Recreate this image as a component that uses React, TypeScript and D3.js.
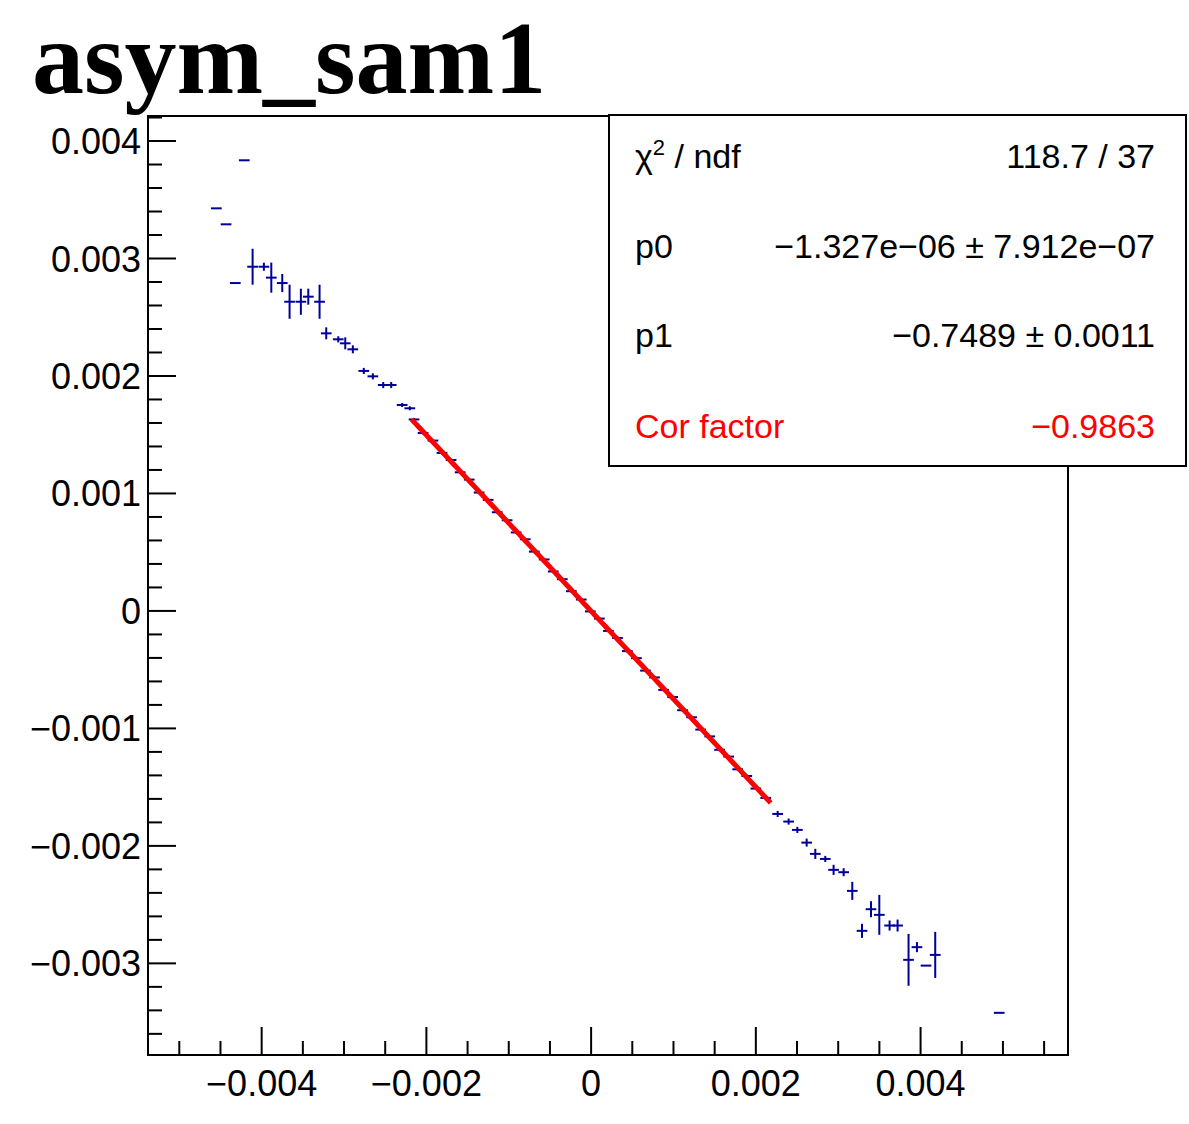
import React from "react";
import * as d3 from "d3";

const TITLE = "asym_sam1";

// data points (x, y, y-error)
const ptX = [
  -0.00455, -0.004432, -0.00432, -0.004211, -0.00411, -0.003973, -0.003883, -0.00375, -0.003661, -0.003524,
  -0.003434, -0.003297, -0.003216, -0.00307, -0.002985, -0.002893, -0.00276, -0.00265, -0.002524, -0.002427,
  -0.002294, -0.002201,
  -0.00215, -0.00204, -0.00192, -0.00181, -0.0017, -0.00159, -0.00148, -0.00136, -0.00125, -0.00114,
  -0.00102, -0.00091, -0.0008, -0.00069, -0.00057, -0.00046, -0.00035, -0.00024, -0.00012, -0.00001,
  0.0001, 0.00021, 0.00032, 0.00044, 0.00055, 0.00066, 0.00077, 0.00088, 0.00099, 0.00111,
  0.00122, 0.00133, 0.00144, 0.00156, 0.00167, 0.00178, 0.00189, 0.002, 0.00212,
  0.002265, 0.002398, 0.002504, 0.002617, 0.002722, 0.002843, 0.002944, 0.003066, 0.003171, 0.003289,
  0.003398, 0.003499, 0.003624, 0.003721, 0.003854, 0.003956, 0.004066, 0.004178, 0.004955,
];
const ptY = [
  0.003427, 0.003291, 0.002791, 0.003836, 0.00293, 0.00293, 0.002837, 0.002791, 0.002632, 0.002632,
  0.002675, 0.002632, 0.002363, 0.002312, 0.002278, 0.002227, 0.002043, 0.001997, 0.001923, 0.001923,
  0.001753, 0.001725,
  0.00163, 0.001515, 0.00145, 0.001345, 0.001285, 0.00118, 0.001118, 0.001008, 0.000945, 0.00084,
  0.000772, 0.000668, 0.00061, 0.000505, 0.000438, 0.000336, 0.00027, 0.000168, 0.000097, -0.000004,
  -0.000065, -0.00017, -0.00023, -0.000342, -0.000402, -0.000508, -0.000566, -0.000672, -0.000733, -0.000845,
  -0.000905, -0.00101, -0.001068, -0.001182, -0.00124, -0.001348, -0.001405, -0.001512, -0.001592,
  -0.001728, -0.001793, -0.001864, -0.001972, -0.002068, -0.002111, -0.002204, -0.002224, -0.002383, -0.002723,
  -0.002539, -0.002587, -0.002678, -0.002678, -0.00297, -0.002862, -0.003019, -0.002928, -0.003421,
];
const ptEY = [
  0, 0, 0, 0, 0.000153, 0.000034, 0.000128, 0.000077, 0.000145, 0.000111,
  0.000068, 0.000145, 0.000051, 0.000026, 0.000051, 0.000034, 0.000026, 0.000026, 0.000026, 0.000026,
  0.000017, 0.000017,
  0.000012, 0.000012, 0.000012, 0.000012, 0.000012, 0.000012, 0.000012, 0.000012, 0.000012, 0.000012,
  0.000012, 0.000012, 0.000012, 0.000012, 0.000012, 0.000012, 0.000012, 0.000012, 0.000012, 0.000012,
  0.000012, 0.000012, 0.000012, 0.000012, 0.000012, 0.000012, 0.000012, 0.000012, 0.000012, 0.000012,
  0.000012, 0.000012, 0.000012, 0.000012, 0.000012, 0.000012, 0.000012, 0.000012, 0.000012,
  0.000026, 0.000026, 0.000026, 0.000034, 0.000043, 0.000026, 0.000043, 0.000034, 0.000077, 0.00006,
  0.000068, 0.00017, 0.000043, 0.000051, 0.000221, 0.000043, 0, 0.000196, 0,
];
const X_ERR = 0.000065;

// fit: y = p0 + p1 * x
const FIT_P0 = -1.327e-6;
const FIT_P1 = -0.7489;
const FIT_RANGE = [-0.00218, 0.00218];

const xTickValues = [-0.004, -0.002, 0, 0.002, 0.004];
const xTickLabels = ["\u22120.004", "\u22120.002", "0", "0.002", "0.004"];
const yTickValues = [0.004, 0.003, 0.002, 0.001, 0, -0.001, -0.002, -0.003];
const yTickLabels = ["0.004", "0.003", "0.002", "0.001", "0", "\u22120.001", "\u22120.002", "\u22120.003"];

const statLabels = ["χ", "p0", "p1", "Cor factor"];
const statValues = ["118.7 / 37", "\u22121.327e\u221206 ± 7.912e\u221207", "\u22120.7489 ± 0.0011", "\u22120.9863"];

const W = 1189;
const H = 1124;
const FL = 148, FR = 1068, FT = 116, FB = 1055;
const SANS = "'Liberation Sans', Arial, Helvetica, sans-serif";
const BLUE = "#000099";

export default function App() {
  const x = d3.scaleLinear().domain([-0.00538, 0.00579]).range([FL, FR]);
  const y = d3.scaleLinear().domain([-0.00378, 0.004213]).range([FB, FT]);

  const xMinor = d3.range(-0.005, 0.0058, 0.0005).filter((v) => x(v) > FL + 1 && x(v) < FR - 1);
  const yMinor = d3.range(-0.0036, 0.00425, 0.0002).filter((v) => y(v) >= FT - 0.5 && y(v) < FB - 1);

  const fitX = d3.range(0, 101).map((i) => FIT_RANGE[0] + ((FIT_RANGE[1] - FIT_RANGE[0]) * i) / 100);
  const fitLine = d3
    .line<number>()
    .x((v) => x(v))
    .y((v) => y(FIT_P0 + FIT_P1 * v))(fitX);

  const isMajorX = (v: number) => Math.abs(Math.round(v / 0.002) * 0.002 - v) < 1e-9;
  const isMajorY = (v: number) => Math.abs(Math.round(v / 0.001) * 0.001 - v) < 1e-9;

  const statRowY = [168, 258, 347, 438];

  return (
    <svg
      width={W}
      height={H}
      style={{ position: "absolute", left: 0, top: 0, background: "#fff" }}
      xmlns="http://www.w3.org/2000/svg"
    >
      <rect x={0} y={0} width={W} height={H} fill="#fff" />
      <text
        x={32}
        y={93}
        fontFamily="'Liberation Serif', 'Times New Roman', serif"
        fontWeight="bold"
        fontSize={104}
        fill="#000"
      >
        {TITLE}
      </text>

      {/* data points */}
      <g stroke={BLUE} strokeWidth={2} fill="none">
        {ptX.map((px, i) => {
          const cx = x(px);
          const cy = y(ptY[i]);
          return (
            <g key={i}>
              <line x1={x(px - X_ERR)} x2={x(px + X_ERR)} y1={cy} y2={cy} />
              {ptEY[i] > 0 && <line x1={cx} x2={cx} y1={y(ptY[i] + ptEY[i])} y2={y(ptY[i] - ptEY[i])} />}
            </g>
          );
        })}
      </g>

      {/* fit line */}
      <path d={fitLine || ""} stroke="#ff0000" strokeWidth={5} fill="none" />

      {/* frame */}
      <rect x={FL} y={FT} width={FR - FL} height={FB - FT} fill="none" stroke="#000" strokeWidth={2} />

      {/* ticks */}
      <g stroke="#000" strokeWidth={2}>
        {xMinor.map((v, i) => (
          <line key={i} x1={x(v)} x2={x(v)} y1={FB} y2={FB - (isMajorX(v) ? 28 : 14)} />
        ))}
        {yMinor.map((v, i) => (
          <line key={"y" + i} x1={FL} x2={FL + (isMajorY(v) ? 28 : 14)} y1={y(v)} y2={y(v)} />
        ))}
      </g>
      <g fontFamily={SANS} fontSize={36} fill="#000">
        {xTickValues.map((v, i) => (
          <text key={i} x={x(v)} y={1096} textAnchor="middle">
            {xTickLabels[i]}
          </text>
        ))}
        {yTickValues.map((v, i) => (
          <text key={"y" + i} x={141} y={y(v) + 13} textAnchor="end">
            {yTickLabels[i]}
          </text>
        ))}
      </g>

      {/* stats box */}
      <rect x={609} y={115} width={577} height={351} fill="#fff" stroke="#000" strokeWidth={2} />
      <g fontFamily={SANS} fontSize={34}>
        {statLabels.map((lab, i) => (
          <text key={i} x={635} y={statRowY[i]} fill={i === 3 ? "#ff0000" : "#000"}>
            {i === 0 ? (
              <>
                {lab}
                <tspan fontSize={22} dy={-13}>2</tspan>
                <tspan dy={13}>{" / ndf"}</tspan>
              </>
            ) : (
              lab
            )}
          </text>
        ))}
        {statValues.map((val, i) => (
          <text key={"v" + i} x={1155} y={statRowY[i]} textAnchor="end" fill={i === 3 ? "#ff0000" : "#000"}>
            {val}
          </text>
        ))}
      </g>
    </svg>
  );
}
